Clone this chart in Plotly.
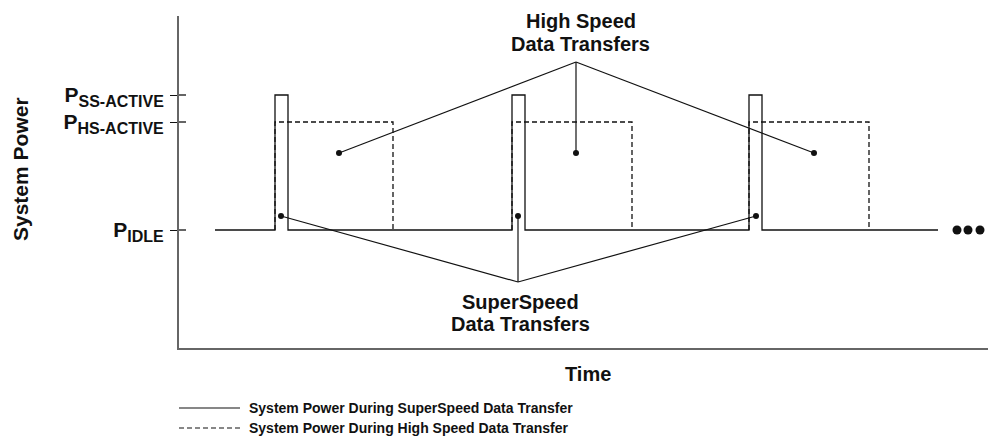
import plotly.graph_objects as go

# ---------------- data (time units / power units, arbitrary) ----------------
idle_start = 36
idle_end = 759
pulse_starts = [96, 333, 570]          # SuperSpeed burst start times
pulse_width = 13                       # SuperSpeed burst duration
hs_ends = [214, 453, 690]              # High Speed burst end times

P_IDLE = 118
P_HS_ACTIVE = 226
P_SS_ACTIVE = 253

tick_vals = [P_SS_ACTIVE, P_HS_ACTIVE, P_IDLE]
tick_subs = ["SS-ACTIVE", "HS-ACTIVE", "IDLE"]

hs_callout_apex = (397, 286)
hs_callout_x = [160, 397, 635]
hs_callout_y = 195
ss_callout_apex = (339, 66)
ss_callout_x = [102, 339, 577]
ss_callout_y = 132

ellipsis_x = [778, 789, 801]

x_range = [0, 809]
y_range = [0, 332]

FONT = "Liberation Sans"
INK = "#111111"

tick_text = ['P<sub><span style="font-size:16px">%s</span></sub>' % s for s in tick_subs]

# ---------------- build traces ----------------
ss_x, ss_y = [idle_start], [P_IDLE]
for s in pulse_starts:
    ss_x += [s, s, s + pulse_width, s + pulse_width]
    ss_y += [P_IDLE, P_SS_ACTIVE, P_SS_ACTIVE, P_IDLE]
ss_x.append(idle_end)
ss_y.append(P_IDLE)

hs_x, hs_y = [], []
for s, e in zip(pulse_starts, hs_ends):
    hs_x += [s, s, e, e, None]
    hs_y += [P_IDLE, P_HS_ACTIVE, P_HS_ACTIVE, P_IDLE, None]

fig = go.Figure()
fig.add_trace(go.Scatter(x=ss_x, y=ss_y, mode="lines",
                         line=dict(color=INK, width=1.3),
                         name="System Power During SuperSpeed Data Transfer",
                         showlegend=False, hoverinfo="skip"))
fig.add_trace(go.Scatter(x=hs_x, y=hs_y, mode="lines",
                         line=dict(color=INK, width=1.3, dash="5px,3px"),
                         name="System Power During High Speed Data Transfer",
                         showlegend=False, hoverinfo="skip"))

# callout leader lines
for apex, xs, yd in [(hs_callout_apex, hs_callout_x, hs_callout_y),
                     (ss_callout_apex, ss_callout_x, ss_callout_y)]:
    lx, ly = [], []
    for xd in xs:
        lx += [apex[0], xd, None]
        ly += [apex[1], yd, None]
    fig.add_trace(go.Scatter(x=lx, y=ly, mode="lines",
                             line=dict(color=INK, width=1.2),
                             showlegend=False, hoverinfo="skip"))
    fig.add_trace(go.Scatter(x=xs, y=[yd] * len(xs), mode="markers",
                             marker=dict(color=INK, size=6),
                             showlegend=False, hoverinfo="skip"))

fig.add_trace(go.Scatter(x=ellipsis_x, y=[P_IDLE] * len(ellipsis_x), mode="markers",
                         marker=dict(color=INK, size=9),
                         showlegend=False, hoverinfo="skip", cliponaxis=False))

# inside part of the y ticks (ticks cross the axis line)
shapes = []
for v in tick_vals:
    shapes.append(dict(type="line", xref="x", yref="y", x0=0, x1=7, y0=v, y1=v,
                       line=dict(color=INK, width=1.3)))

# ---------------- layout ----------------
W, H = 988, 445
ML, MR, MT, MB = 179, 0, 16, 97
PW, PH = W - ML - MR, H - MT - MB


def px(xp):
    return (xp - ML) / PW


def py(yp):
    return (H - MB - yp) / PH


# manual legend
shapes.append(dict(type="line", xref="paper", yref="paper",
                   x0=px(179), x1=px(240), y0=py(408), y1=py(408),
                   line=dict(color=INK, width=1.2)))
shapes.append(dict(type="line", xref="paper", yref="paper",
                   x0=px(179), x1=px(240), y0=py(428), y1=py(428),
                   line=dict(color=INK, width=1.2, dash="5px,3px")))

bold = dict(family=FONT, color=INK, weight="bold")
annotations = [
    dict(text="High Speed", x=px(581), y=py(20.7), font=dict(size=20, **bold)),
    dict(text="Data Transfers", x=px(580), y=py(44), font=dict(size=20, **bold)),
    dict(text="SuperSpeed", x=px(520.7), y=py(302), font=dict(size=20, **bold)),
    dict(text="Data Transfers", x=px(520), y=py(324.3), font=dict(size=20, **bold)),
    dict(text="Time", x=px(588), y=py(374), font=dict(size=20, **bold)),
    dict(text="System Power", x=px(20), y=py(169), textangle=-90, font=dict(size=21, **bold)),
    dict(text="System Power During SuperSpeed Data Transfer", x=px(247), y=py(408),
         xanchor="left", font=dict(size=14, **bold)),
    dict(text="System Power During High Speed Data Transfer", x=px(247), y=py(428),
         xanchor="left", font=dict(size=14, **bold)),
]
for a in annotations:
    a.update(xref="paper", yref="paper", showarrow=False)
    a.setdefault("xanchor", "center")
    a.setdefault("yanchor", "middle")

fig.update_layout(
    width=W, height=H,
    margin=dict(l=ML, r=MR, t=MT, b=MB, autoexpand=False),
    paper_bgcolor="white", plot_bgcolor="white",
    font=dict(family=FONT, color=INK),
    showlegend=False,
    shapes=shapes,
    annotations=annotations,
    xaxis=dict(range=x_range, showline=True, linecolor="#666666", linewidth=2,
               showgrid=False, zeroline=False, showticklabels=False, ticks="",
               fixedrange=True),
    yaxis=dict(range=y_range, showline=True, linecolor="#666666", linewidth=2,
               showgrid=False, zeroline=False, tickvals=tick_vals, ticktext=tick_text,
               ticks="outside", ticklen=7, tickwidth=1.3, tickcolor=INK,
               tickfont=dict(size=21, family=FONT, color=INK, weight="bold"),
               ticklabelstandoff=2, fixedrange=True),
)

fig.write_html("out.html", config={"displayModeBar": False})

# remove the default 8px body margin so the figure sits at the window's corner
with open("out.html", encoding="utf-8") as f:
    html = f.read()
html = html.replace("<head>", "<head><style>html,body{margin:0;padding:0;overflow:hidden;}</style>", 1)
with open("out.html", "w", encoding="utf-8") as f:
    f.write(html)
